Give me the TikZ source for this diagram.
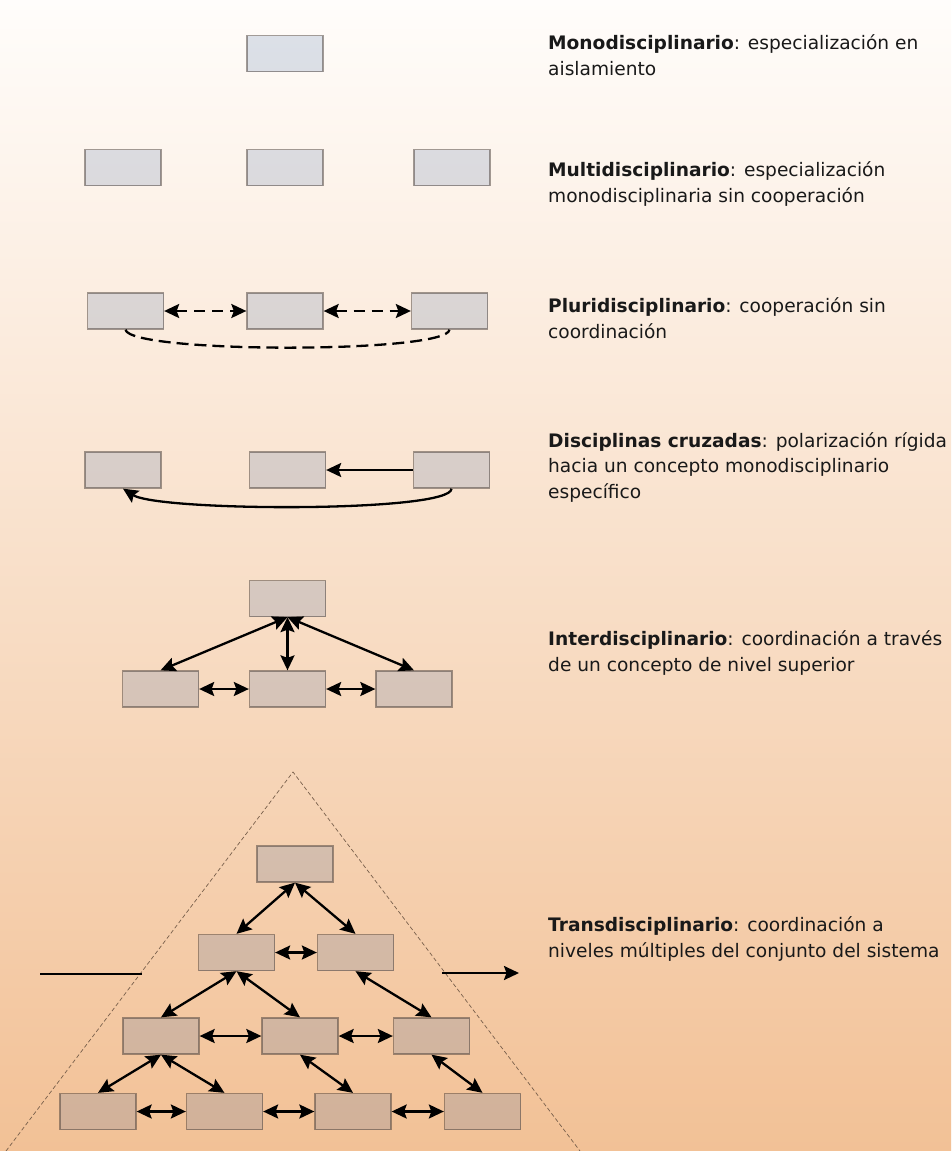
\documentclass[tikz,border=0pt]{standalone}
\usepackage{fontspec}
\setmainfont{DejaVu Sans}
\usetikzlibrary{arrows.meta,positioning}
\definecolor{bgtop}{RGB}{255,253,251}
\definecolor{bgbot}{RGB}{242,193,150}
\definecolor{dblue}{RGB}{65,104,161}
\definecolor{dedge}{RGB}{70,60,55}
\definecolor{pedge}{RGB}{120,95,75}
\definecolor{dtext}{RGB}{25,25,25}
\tikzset{
  disc/.style={draw=dedge,draw opacity=0.5,line width=1.3pt,fill=dblue,fill opacity=0.18,
               minimum width=76pt,minimum height=36pt,inner sep=0pt},
  desc/.style={anchor=base west,align=left,inner sep=0pt,text=dtext,
               font=\fontsize{18.6}{25.5}\selectfont},
  link/.style={<->,line width=2.3pt},
  oneway/.style={->,line width=2.3pt},
  dlink/.style={<->,line width=2.3pt,dash pattern=on 11pt off 7pt},
  pyramid/.style={draw=pedge,line width=0.7pt,dash pattern=on 4pt off 2.5pt}
}

\begin{document}
\begin{tikzpicture}[x=1pt,y=-1pt,>={Stealth[length=15pt,width=14pt,inset=2.5pt]}]
  \useasboundingbox (0,0) rectangle (951,1151);
  \shade[top color=bgtop,bottom color=bgbot] (0,0) rectangle (951,1151);
  % monodisciplinario
  \node[disc] (mono) at (285,53.5) {};
  \node[desc] (tmono) at (548,75) {\textbf{Monodisciplinario}: especialización en\\aislamiento};
  % multidisciplinario
  \node[disc] (mu1) at (123,167.5) {};
  \node[disc] (mu2) at (285,167.5) {};
  \node[disc] (mu3) at (452,167.5) {};
  \node[desc] (tmulti) at (548,202) {\textbf{Multidisciplinario}: especialización\\monodisciplinaria sin cooperación};
  % pluridisciplinario
  \node[disc] (pl1) at (125.5,311) {};
  \node[disc] (pl2) at (285,311) {};
  \node[disc] (pl3) at (449.5,311) {};
  \draw[dlink] (pl1.east) -- (pl2.west);
  \draw[dlink] (pl2.east) -- (pl3.west);
  \draw[line width=2.3pt,dash pattern=on 12pt off 6pt] (pl1.south) .. controls +(4,24) and +(-2,24) .. (pl3.south);
  \node[desc] (tpluri) at (548,338) {\textbf{Pluridisciplinario}: cooperación sin\\coordinación};
  % disciplinas cruzadas
  \node[disc] (cr1) at (123,470) {};
  \node[disc] (cr2) at (287.5,470) {};
  \node[disc] (cr3) at (451.5,470) {};
  \draw[oneway] (cr3.west) -- (cr2.east);
  \draw[oneway] (cr3.south) .. controls +(0,24) and +(36,23) .. (cr1.south);
  \node[desc] (tcruz) at (548,498) {\textbf{Disciplinas cruzadas}: polarización rígida\\hacia un concepto monodisciplinario\\específico};
  % interdisciplinario
  \node[disc] (in0) at (287.5,598.5) {};
  \node[disc] (in1) at (160.5,689) {};
  \node[disc] (in2) at (287.5,689) {};
  \node[disc] (in3) at (414,689) {};
  \draw[link] (in0.south) -- (in1.north);
  \draw[link] (in0.south) -- (in2.north);
  \draw[link] (in0.south) -- (in3.north);
  \draw[link] (in1.east) -- (in2.west);
  \draw[link] (in2.east) -- (in3.west);
  \node[desc] (tinter) at (548,671) {\textbf{Interdisciplinario}: coordinación a través\\de un concepto de nivel superior};
  % transdisciplinario
  \coordinate (apex) at (293,772);
  \coordinate (pyl) at (6,1151);
  \coordinate (pyr) at (580,1151);
  \draw[pyramid] (pyl) -- (apex) -- (pyr);
  \node[disc] (tr1) at (295,864) {};
  \node[disc] (tr21) at (236.5,952.5) {};
  \node[disc] (tr22) at (355.5,952.5) {};
  \node[disc] (tr31) at (161,1036) {};
  \node[disc] (tr32) at (300,1036) {};
  \node[disc] (tr33) at (431.5,1036) {};
  \node[disc] (tr41) at (98,1111.5) {};
  \node[disc] (tr42) at (224.5,1111.5) {};
  \node[disc] (tr43) at (353,1111.5) {};
  \node[disc] (tr44) at (482.5,1111.5) {};
  \draw[link] (tr1.south) -- (tr21.north);
  \draw[link] (tr1.south) -- (tr22.north);
  \draw[link] (tr21.east) -- (tr22.west);
  \draw[link] (tr21.south) -- (tr31.north);
  \draw[link] (tr21.south) -- (tr32.north);
  \draw[link] (tr22.south) -- (tr33.north);
  \draw[link] (tr31.east) -- (tr32.west);
  \draw[link] (tr32.east) -- (tr33.west);
  \draw[link] (tr31.south) -- (tr41.north);
  \draw[link] (tr31.south) -- (tr42.north);
  \draw[link] (tr32.south) -- (tr43.north);
  \draw[link] (tr33.south) -- (tr44.north);
  \draw[link] (tr41.east) -- (tr42.west);
  \draw[link] (tr42.east) -- (tr43.west);
  \draw[link] (tr43.east) -- (tr44.west);
  % sistema: entrada y salida
  \coordinate (inA) at (40,974);
  \coordinate (inB) at (142,974);
  \coordinate (outA) at (442,973);
  \coordinate (outB) at (519,973);
  \draw[line width=2.3pt] (inA) -- (inB);
  \draw[oneway] (outA) -- (outB);
  \node[desc] (ttrans) at (548,957) {\textbf{Transdisciplinario}: coordinación a\\niveles múltiples del conjunto del sistema};
\end{tikzpicture}
\end{document}
